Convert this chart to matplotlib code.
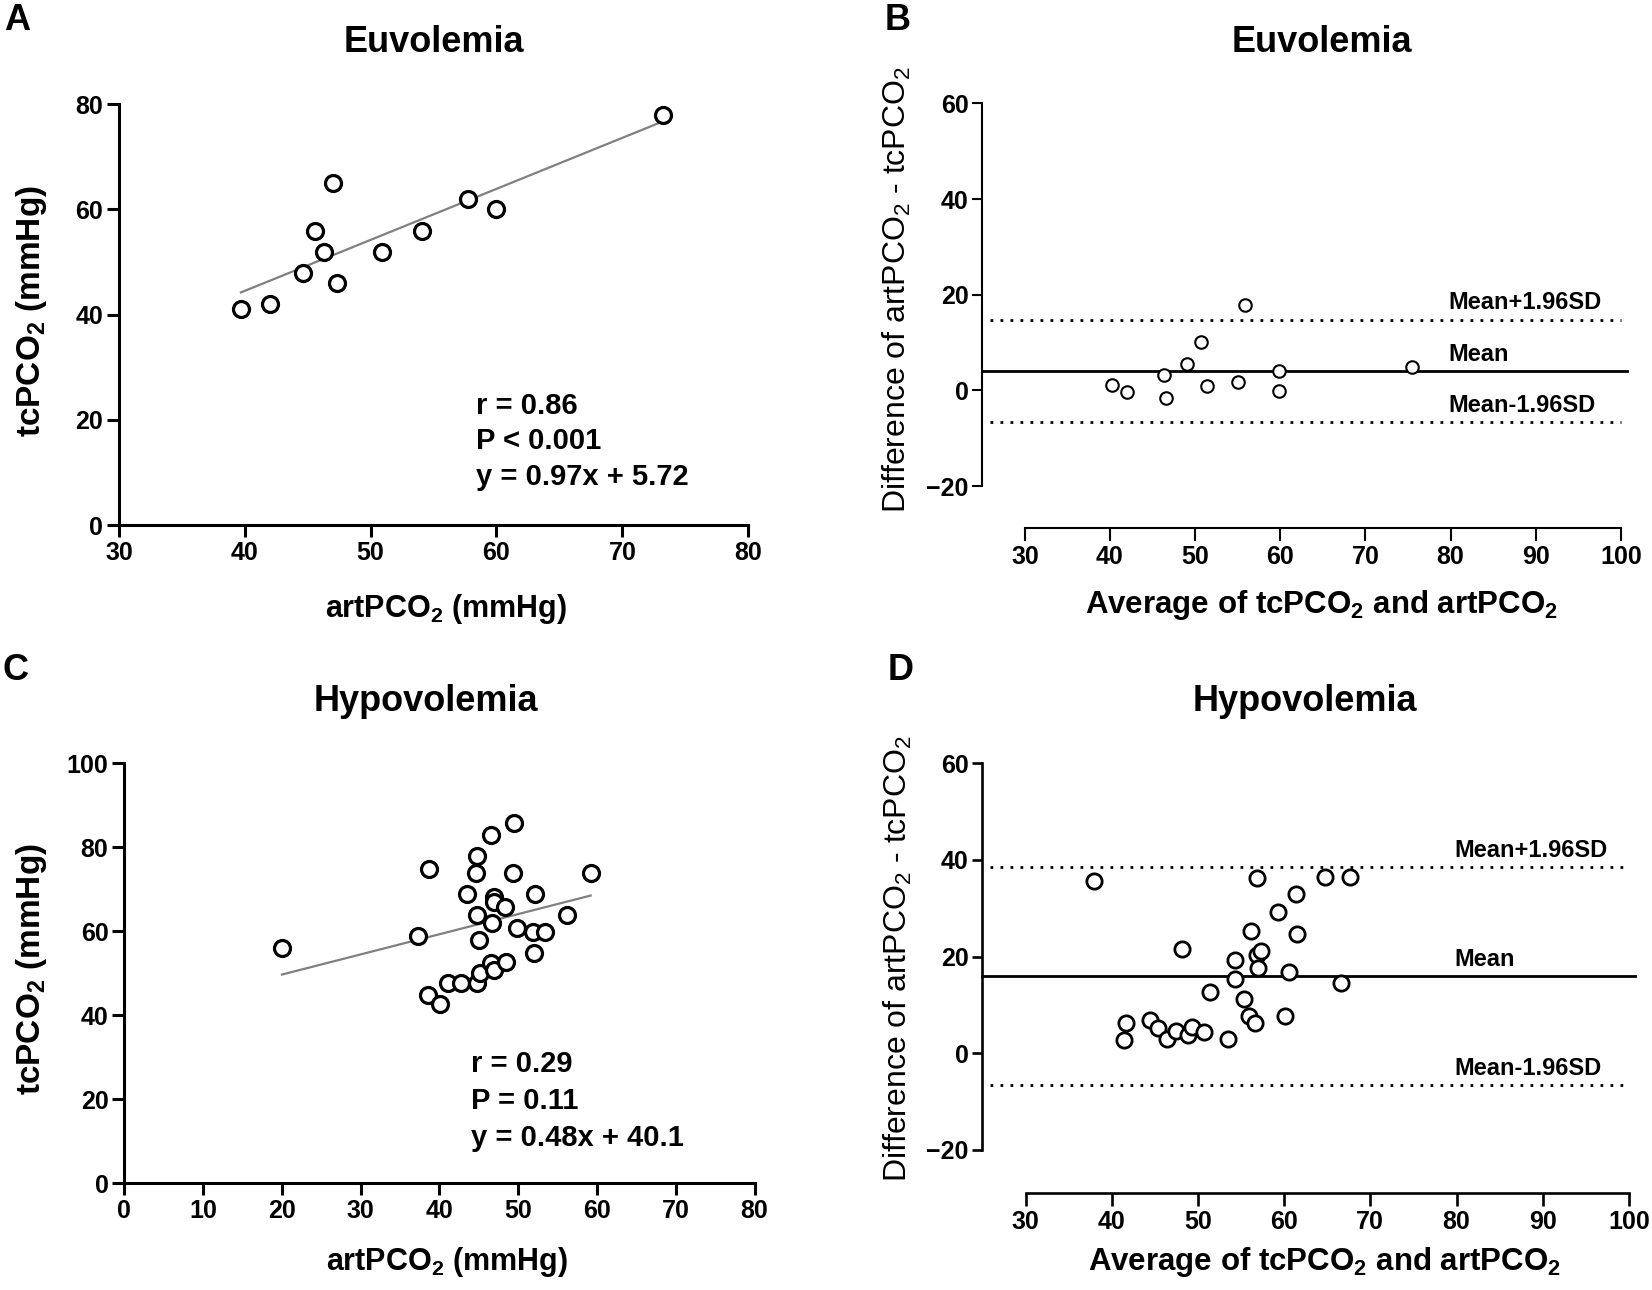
import matplotlib
matplotlib.use("Agg")
import matplotlib.pyplot as plt
from matplotlib import font_manager
import numpy as np

# ── Data ─────────────────────────────────────────────────────────────────────
# A: Euvolemia correlation
euv_art = [39.7, 42.0, 44.6, 45.6, 46.3, 47.0, 47.3, 50.9, 54.1, 57.7, 60.0, 73.2]
euv_tc  = [41.0, 42.0, 48.0, 56.0, 52.0, 65.0, 46.0, 52.0, 56.0, 62.0, 60.0, 78.0]
euv_slope, euv_icpt = 0.97, 5.72
euv_stats = ["r = 0.86", "P < 0.001", "y = 0.97x + 5.72"]

# B: Euvolemia Bland-Altman
euv_avg  = [40.2, 42.0, 46.3, 46.6, 49.1, 50.7, 51.4, 55.0, 55.9, 59.9, 59.9, 75.5]
euv_diff = [1.2, -0.3, 3.3, -1.5, 5.5, 10.2, 1.0, 1.7, 17.9, 4.1, -0.2, 4.8]
euv_mean, euv_upper, euv_lower = 4.1, 14.8, -6.6

# C: Hypovolemia correlation
hypo_art = [20.0, 37.3, 38.7, 38.5, 40.1, 41.1, 42.7, 43.5, 44.8, 44.6, 44.8,
            45.0, 44.8, 45.1, 46.6, 46.9, 46.9, 46.7, 46.6, 46.9, 48.3, 48.5,
            49.5, 49.3, 49.8, 52.1, 51.9, 53.4, 52.0, 56.2, 59.2]
hypo_tc  = [56.0, 58.9, 74.8, 44.8, 42.7, 47.8, 47.6, 68.8, 77.9, 73.8, 63.9,
            57.9, 47.6, 50.1, 82.9, 68.2, 67.0, 61.9, 52.4, 50.8, 65.9, 52.8,
            85.9, 73.8, 60.7, 68.9, 59.9, 59.9, 54.9, 63.9, 73.8]
hypo_slope, hypo_icpt = 0.48, 40.1
hypo_stats = ["r = 0.29", "P = 0.11", "y = 0.48x + 40.1"]

# D: Hypovolemia Bland-Altman
hypo_avg  = [38.0, 41.7, 41.4, 44.5, 45.4, 46.4, 47.5, 48.8, 49.3, 50.7, 48.2,
             51.4, 53.5, 54.3, 54.3, 55.3, 55.9, 56.6, 56.2, 56.8, 56.9, 57.3,
             57.0, 59.3, 60.1, 60.6, 61.4, 61.5, 64.7, 66.6, 67.7]
hypo_diff = [35.7, 6.3, 2.8, 6.9, 5.2, 2.9, 4.5, 3.8, 5.5, 4.3, 21.5,
             12.7, 2.9, 19.2, 15.3, 11.2, 7.7, 6.3, 25.3, 36.2, 20.3, 21.2,
             17.6, 29.3, 7.6, 16.9, 33.0, 24.7, 36.4, 14.6, 36.4]
hypo_mean, hypo_upper, hypo_lower = 16.0, 38.5, -6.6

ba_labels = ["Mean+1.96SD", "Mean", "Mean-1.96SD"]

# ── Fonts ────────────────────────────────────────────────────────────────────
names = {f.name for f in font_manager.fontManager.ttflist}
NARROW = "Liberation Sans Narrow" if "Liberation Sans Narrow" in names else "Liberation Sans"
WIDE = "Liberation Sans"

plt.rcParams.update({
    "font.family": [NARROW, "DejaVu Sans"],
    "font.weight": "bold",
    "mathtext.default": "regular",
    "axes.linewidth": 2.0,
})

W, H = 1652, 1290
fig = plt.figure(figsize=(W / 100, H / 100), dpi=100)


def px_rect(left, right, top, bottom):
    return [left / W, 1 - bottom / H, (right - left) / W, (bottom - top) / H]


def style_axes(ax, lw, ticklen, fs):
    ax.spines[["top", "right"]].set_visible(False)
    ax.spines["left"].set_linewidth(lw)
    ax.spines["bottom"].set_linewidth(lw)
    ax.tick_params(width=lw, length=ticklen, labelsize=fs, pad=3, direction="out")
    for lab in ax.get_xticklabels() + ax.get_yticklabels():
        lab.set_fontweight("bold")


def corr_panel(ax, x, y, slope, icpt, stats, xlim, ylim, xticks, yticks, stat_xy):
    ax.plot(x, y, "o", ms=11.5, mfc="white", mec="black", mew=2.3, clip_on=False, zorder=3)
    xs = np.array([min(x), max(x)])
    ax.plot(xs, slope * xs + icpt, color="#808080", lw=1.6, zorder=2)
    ax.set_xlim(*xlim)
    ax.set_ylim(*ylim)
    ax.set_xticks(xticks)
    ax.set_yticks(yticks)
    style_axes(ax, 2.2, 8.5, 18)
    for i, s in enumerate(stats):
        ax.text(stat_xy[0], stat_xy[1] - i * stat_xy[2], s, fontsize=21,
                fontweight="bold", ha="left", va="center")
    ax.set_xlabel("artPCO$_2$ (mmHg)", fontsize=22, fontweight="bold")
    ax.set_ylabel("tcPCO$_2$ (mmHg)", fontsize=24, fontweight="bold")
    ax.xaxis.label.set_va("center")
    ax.yaxis.label.set_va("center")


def ba_panel(ax, avg, diff, mean, upper, lower, lw, ms, mew, ylim):
    ax.plot(avg, diff, "o", ms=ms, mfc="white", mec="black", mew=mew, zorder=3)
    ax.axhline(mean, xmin=0.0, xmax=1.01, color="black", lw=2.0, clip_on=False)
    for v in (upper, lower):
        ax.axhline(v, xmin=0.012, xmax=1.0, color="black", lw=2.0,
                   ls=(0, (1, 2.6)), clip_on=False)
    for lab, v in zip(ba_labels, (upper, mean, lower)):
        ax.annotate(lab, xy=(79.8, v), xytext=(0, 12), textcoords="offset points",
                    fontsize=17, fontweight="bold", ha="left", va="center")
    ax.set_xlim(25, 100)
    ax.set_ylim(*ylim)
    ax.set_xticks(range(30, 101, 10))
    ax.set_yticks(range(-20, 61, 20))
    ax.spines["bottom"].set_bounds(30, 100)
    ax.spines["left"].set_bounds(-20, 60)
    style_axes(ax, lw, 7, 18)
    ax.tick_params(axis="x", length=9)
    ax.set_xlabel("Average of tcPCO$_2$ and artPCO$_2$", fontsize=22.5, fontweight="bold")
    ax.set_ylabel("Difference of artPCO$_2$ - tcPCO$_2$", fontsize=23,
                  fontweight="normal", family=WIDE)
    ax.xaxis.label.set_va("center")
    ax.yaxis.label.set_va("center")


# ── Panel A ──────────────────────────────────────────────────────────────────
axA = fig.add_axes(px_rect(118.9, 748.2, 104.3, 525))
corr_panel(axA, euv_art, euv_tc, euv_slope, euv_icpt, euv_stats,
           (30, 80), (0, 80), range(30, 81, 10), range(0, 81, 20), (58.4, 22.7, 6.8))
axA.xaxis.set_label_coords(0.52, -0.2)
axA.yaxis.set_label_coords(-0.139, 0.509)

# ── Panel B ──────────────────────────────────────────────────────────────────
axB = fig.add_axes(px_rect(982.3, 1620.8, 103.3, 528.3))
ba_panel(axB, euv_avg, euv_diff, euv_mean, euv_upper, euv_lower, 1.5, 9, 1.5, (-28.8, 60))
axB.xaxis.set_label_coords(0.532, -0.18)
axB.yaxis.set_label_coords(-0.133, 0.561)

# ── Panel C ──────────────────────────────────────────────────────────────────
axC = fig.add_axes(px_rect(124.4, 754.5, 763.3, 1183.3))
corr_panel(axC, hypo_art, hypo_tc, hypo_slope, hypo_icpt, hypo_stats,
           (0, 80), (0, 100), range(0, 81, 10), range(0, 101, 20), (44.0, 28.4, 8.8))
axC.xaxis.set_label_coords(0.512, -0.187)
axC.yaxis.set_label_coords(-0.147, 0.51)

# ── Panel D ──────────────────────────────────────────────────────────────────
axD = fig.add_axes(px_rect(982.4, 1628.9, 763.3, 1193.3))
ba_panel(axD, hypo_avg, hypo_diff, hypo_mean, hypo_upper, hypo_lower, 1.9, 11, 2.0, (-29, 60))
axD.xaxis.set_label_coords(0.53, -0.16)
axD.yaxis.set_label_coords(-0.131, 0.545)

# ── Titles and panel letters ────────────────────────────────────────────────
for txt, x, y in [("Euvolemia", 434, 42), ("Euvolemia", 1322, 42),
                  ("Hypovolemia", 426, 701), ("Hypovolemia", 1305, 701)]:
    fig.text(x / W, 1 - y / H, txt, fontsize=26, fontweight="bold", family=WIDE,
             ha="center", va="center")
for txt, x, y in [("A", 4, 21), ("B", 885, 21), ("C", 3, 671), ("D", 888, 671)]:
    fig.text(x / W, 1 - y / H, txt, fontsize=26, fontweight="bold", family=WIDE,
             ha="left", va="center")

fig.savefig("out.png", dpi=100)
